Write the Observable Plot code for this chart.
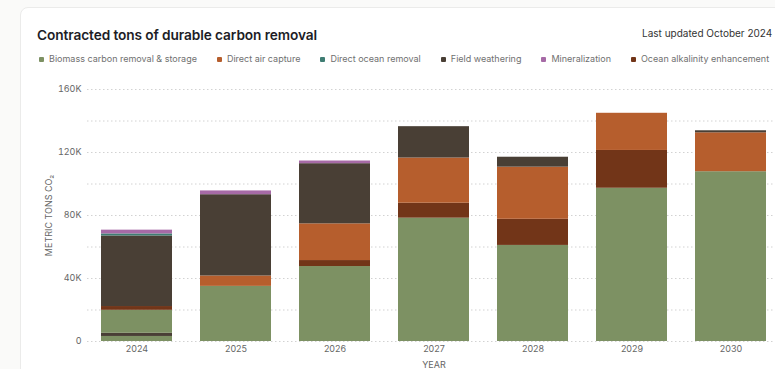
<!DOCTYPE html>
<html>
<head>
<meta charset="utf-8">
<script src="https://cdn.jsdelivr.net/npm/d3@7"></script>
<script src="https://cdn.jsdelivr.net/npm/@observablehq/plot@0.6"></script>
<style>
  html, body { margin:0; padding:0; }
  body { width:775px; height:369px; overflow:hidden; background:#fafaf9; font-family:Inter, "Noto Sans", sans-serif; position:relative; }
  .card { position:absolute; left:20px; top:7px; width:820px; height:420px; background:#fff; border:1px solid #ebebea; border-radius:8px; }
  .title { position:absolute; left:37px; top:28px; font-size:13.7px; line-height:14px; font-weight:600; color:#1d1d26; letter-spacing:-0.1px; white-space:nowrap; }
  .updated { position:absolute; left:642px; top:28px; font-size:10px; line-height:11px; color:#333; white-space:nowrap; }
  .legend { position:absolute; left:39px; top:54px; display:flex; gap:20px; white-space:nowrap; font-size:9px; line-height:10px; color:#707070; }
  .item { display:flex; align-items:center; gap:5px; }
  .sw { width:5px; height:5px; border-radius:1px; display:inline-block; }
  #chart { position:absolute; left:0; top:80px; width:790px; height:289px; }
  #chart svg { max-width:none !important; display:block; }
</style>
</head>
<body>
<div class="card"></div>
<div class="title">Contracted tons of durable carbon removal</div>
<div class="updated">Last updated October 2024</div>
<div class="legend" id="legend"></div>
<div id="chart"></div>
<script>
const years = ["2024", "2025", "2026", "2027", "2028", "2029", "2030"];
const methods = [
  "Biomass carbon removal & storage",
  "Direct air capture",
  "Direct ocean removal",
  "Field weathering",
  "Mineralization",
  "Ocean alkalinity enhancement"
];
const colors = ["#7d9163", "#b65e2d", "#3f7d73", "#493f35", "#a66aa6", "#723518"];

// metric tons CO2 per year
const biomassLot1      = [3200, 0, 0, 0, 0, 0, 0];
const fieldLot1        = [2000, 0, 0, 0, 0, 0, 0];
const biomass          = [14600, 35000, 47600, 78300, 61000, 97300, 107800];
const oceanAlkalinity  = [2400, 0, 3800, 9500, 16600, 24000, 0];
const directAirCapture = [0, 6600, 23300, 28700, 33100, 23600, 24700];
const fieldWeathering  = [44800, 51600, 38200, 19900, 6300, 0, 1300];
const directOcean      = [1300, 0, 0, 0, 0, 0, 0];
const mineralization   = [2400, 2400, 1700, 0, 0, 0, 0];

const yTicks = [0, 40000, 80000, 120000, 160000];
const gridTicks = [0, 20000, 40000, 60000, 80000, 100000, 120000, 140000, 160000];

// stacking sequence (bottom to top)
const sequence = [
  [biomassLot1, methods[0]],
  [fieldLot1, methods[3]],
  [biomass, methods[0]],
  [oceanAlkalinity, methods[5]],
  [directAirCapture, methods[1]],
  [fieldWeathering, methods[3]],
  [directOcean, methods[2]],
  [mineralization, methods[4]]
];
const rows = [];
sequence.forEach(([vals, method]) => {
  years.forEach((year, i) => { if (vals[i] > 0) rows.push({year, method, tons: vals[i]}); });
});

// legend
const legend = document.getElementById("legend");
methods.forEach((m, i) => {
  const it = document.createElement("div");
  it.className = "item";
  it.innerHTML = `<span class="sw" style="background:${colors[i]}"></span><span>${m}</span>`;
  legend.appendChild(it);
});

const chart = Plot.plot({
  width: 790,
  height: 289,
  marginLeft: 87,
  marginRight: 10,
  marginTop: 9,
  marginBottom: 28,
  style: { fontFamily: "Inter, 'Noto Sans', sans-serif", fontSize: "9px", color: "#666", background: "transparent", maxWidth: "none" },
  x: {
    domain: years,
    paddingInner: 0.28,
    paddingOuter: 0.14,
    tickSize: 0,
    tickPadding: 4,
    label: "YEAR",
    labelAnchor: "center",
    labelOffset: 26
  },
  y: {
    domain: [0, 160000],
    ticks: yTicks,
    tickFormat: d => d === 0 ? "0" : (d / 1000) + "K",
    tickSize: 0,
    tickPadding: 6,
    label: "METRIC TONS CO₂",
    labelAnchor: "center",
    labelArrow: false,
    labelOffset: 42
  },
  color: { domain: methods, range: colors },
  marks: [
    Plot.ruleY(gridTicks, { stroke: "#d2d2d2", strokeDasharray: "1.5,2.5", strokeWidth: 1 }),
    Plot.barY(rows, { x: "year", y: "tons", fill: "method" })
  ]
});
document.getElementById("chart").appendChild(chart);
</script>
</body>
</html>
